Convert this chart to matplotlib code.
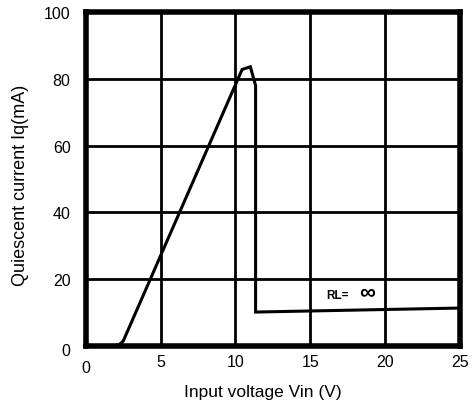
import numpy as np
import matplotlib.pyplot as plt

plt.rcParams['font.family'] = ['Liberation Sans', 'DejaVu Sans']

vin = [1.55, 2.2, 2.5, 10.45, 11.0, 11.35, 11.35, 25.0]
iq = [0.0, 0.3, 1.5, 82.8, 83.6, 78.0, 10.2, 11.4]

xticks = [0, 5, 10, 15, 20, 25]
yticks = [0, 20, 40, 60, 80, 100]

fig = plt.figure(figsize=(4.74, 4.06), dpi=100)
ax = fig.add_axes([0.181, 0.145, 0.789, 0.823])

ax.plot(vin, iq, color='black', lw=2.2, solid_joinstyle='miter')

ax.set_xlim(0, 25)
ax.set_ylim(0, 100)
ax.set_xticks(xticks)
ax.set_yticks(yticks)
ax.set_xticklabels([''] + [str(t) for t in xticks[1:]], fontsize=11.5)
ax.set_yticklabels([''] + [str(t) for t in yticks[1:]], fontsize=11.5)
ax.tick_params(length=0)
ax.tick_params(axis='x', pad=6)
ax.tick_params(axis='y', pad=11)
ax.grid(True, color='black', lw=2)
for s in ax.spines.values():
    s.set_linewidth(4)

# the two zero labels sit a bit off the others
fig.text(86 / 474, 1 - 369 / 406, '0', fontsize=11.5, ha='center', va='center')
fig.text(66 / 474, 1 - 352 / 406, '0', fontsize=11.5, ha='center', va='center')

ax.text(16.1, 15.4, 'RL=', fontsize=8.5, fontweight='bold', ha='left', va='center')
ax.text(18.3, 16.3, '\u221e', fontsize=16, fontweight='bold', ha='left', va='center')

fig.text(263 / 474, 1 - 393 / 406, 'Input voltage Vin (V)', fontsize=12.5, ha='center', va='center')
fig.text(21 / 474, 1 - 185 / 406, 'Quiescent current Iq(mA)', fontsize=13,
         ha='center', va='center', rotation=90)

fig.savefig('out.png', dpi=100)
